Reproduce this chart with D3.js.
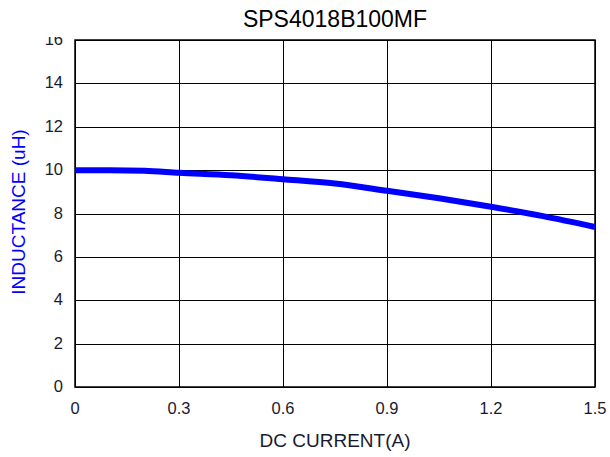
<!DOCTYPE html>
<meta charset="utf-8" />
<style>
  body { margin: 0; background: #fff; }
  svg { display: block; font-family: "Liberation Sans", Arial, sans-serif; }
  .grid line { stroke: #000; stroke-width: 1px; shape-rendering: crispEdges; }
  .tick-label { font-size: 16.5px; fill: #1a1a2e; }
</style>
<body>
<script src="https://d3js.org/d3.v7.min.js"></script>
<script>

// data
var current = [0, 0.1, 0.2, 0.3, 0.45, 0.6, 0.75, 0.9, 1.05, 1.2, 1.35, 1.5];
var inductance = [10.0, 10.0, 9.97, 9.88, 9.76, 9.58, 9.38, 9.05, 8.70, 8.31, 7.88, 7.38];
var xTicks = [0, 0.3, 0.6, 0.9, 1.2, 1.5];
var yTicks = [0, 2, 4, 6, 8, 10, 12, 14, 16];

var margin = {top: 40, right: 15, bottom: 70, left: 75},
    width = 610 - margin.left - margin.right,
    height = 457 - margin.top - margin.bottom;

var x = d3.scaleLinear().domain([0, 1.5]).range([0, width]);
var y = d3.scaleLinear().domain([0, 16]).range([height, 0]);

var svg = d3.select("body").append("svg")
    .attr("width", 610)
    .attr("height", 457);

var g = svg.append("g")
    .attr("transform", "translate(" + margin.left + "," + margin.top + ")");

// grid
var grid = g.append("g").attr("class", "grid");
grid.selectAll(".vx").data(xTicks).enter().append("line")
    .attr("x1", function(d) { return Math.round(x(d)) + 0.5; })
    .attr("x2", function(d) { return Math.round(x(d)) + 0.5; })
    .attr("y1", 0).attr("y2", height);
grid.selectAll(".hy").data(yTicks).enter().append("line")
    .attr("y1", function(d) { return Math.round(y(d)) + 0.5; })
    .attr("y2", function(d) { return Math.round(y(d)) + 0.5; })
    .attr("x1", 0).attr("x2", width);

// frame
g.append("rect")
    .attr("x", 0).attr("y", 0)
    .attr("width", width).attr("height", height)
    .attr("fill", "none")
    .attr("stroke", "#000")
    .attr("stroke-width", 1.5);

// tick labels
g.selectAll(".xl").data(xTicks).enter().append("text")
    .attr("class", "tick-label")
    .attr("x", function(d) { return x(d); })
    .attr("y", height + 27)
    .attr("text-anchor", "middle")
    .text(function(d) { return d; });

g.selectAll(".yl").data(yTicks).enter().append("text")
    .attr("class", "tick-label")
    .attr("x", -12)
    .attr("y", function(d) { return y(d) + 5; })
    .attr("text-anchor", "end")
    .text(function(d) { return d; });

// the top label is cut off in the original
svg.append("rect")
    .attr("x", 30).attr("y", 0)
    .attr("width", 40).attr("height", 37)
    .attr("fill", "#fff");

// curve
var line = d3.line()
    .x(function(d, i) { return x(current[i]); })
    .y(function(d) { return y(d); })
    .curve(d3.curveMonotoneX);

g.append("path")
    .datum(inductance)
    .attr("fill", "none")
    .attr("stroke", "#0000ff")
    .attr("stroke-width", 6)
    .attr("d", line);

// title and axis names
svg.append("text")
    .attr("x", 335)
    .attr("y", 27)
    .attr("text-anchor", "middle")
    .style("font-size", "23px")
    .style("fill", "#000")
    .text("SPS4018B100MF");

svg.append("text")
    .attr("x", 335)
    .attr("y", 447)
    .attr("text-anchor", "middle")
    .style("font-size", "19px")
    .style("fill", "#1a1a2e")
    .text("DC CURRENT(A)");

svg.append("text")
    .attr("transform", "translate(25,212)rotate(-90)")
    .attr("text-anchor", "middle")
    .style("font-size", "19px")
    .style("fill", "#0000ff")
    .text("INDUCTANCE (uH)");

</script>
</body>
